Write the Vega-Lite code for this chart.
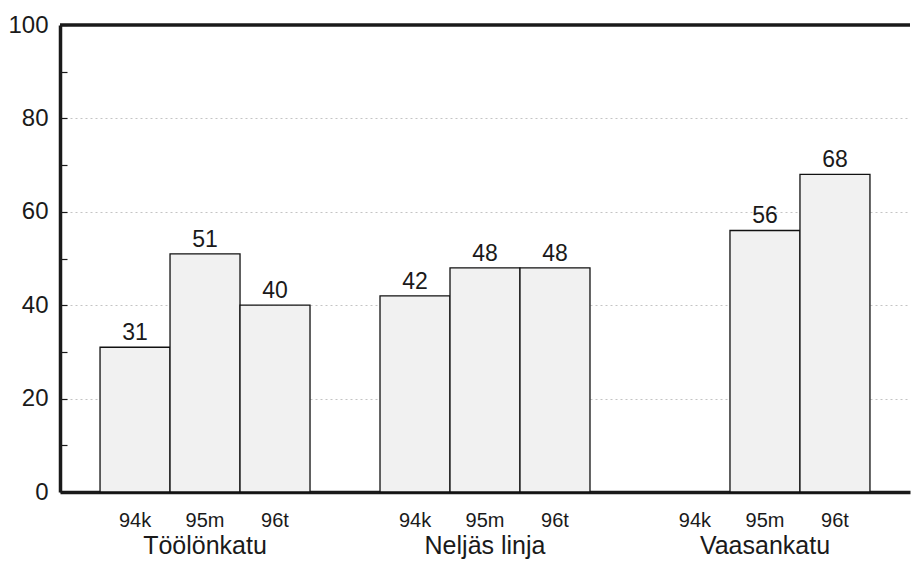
{
  "$schema": "https://vega.github.io/schema/vega-lite/v6.json",
  "width": 850,
  "height": 467,
  "autosize": "none",
  "padding": {"left": 60, "top": 25, "right": 2, "bottom": 73},
  "background": "white",
  "config": {"view": {"stroke": null}, "font": "Liberation Sans", "text": {"font": "Liberation Sans", "color": "#1a1a1a"}},
  "data": {
    "values": [
      {"street": "Töölönkatu", "year": "94k", "value": 31},
      {"street": "Töölönkatu", "year": "95m", "value": 51},
      {"street": "Töölönkatu", "year": "96t", "value": 40},
      {"street": "Neljäs linja", "year": "94k", "value": 42},
      {"street": "Neljäs linja", "year": "95m", "value": 48},
      {"street": "Neljäs linja", "year": "96t", "value": 48},
      {"street": "Vaasankatu", "year": "94k", "value": null},
      {"street": "Vaasankatu", "year": "95m", "value": 56},
      {"street": "Vaasankatu", "year": "96t", "value": 68}
    ]
  },
  "layer": [
    {
      "transform": [{"filter": "datum.value != null"}],
      "mark": {"type": "bar", "fill": "#f1f1f1", "stroke": "#111111", "strokeWidth": 1.3},
      "encoding": {
        "x": {
          "field": "street", "type": "nominal",
          "sort": ["Töölönkatu", "Neljäs linja", "Vaasankatu"],
          "scale": {"domain": ["Töölönkatu", "Neljäs linja", "Vaasankatu"], "paddingInner": 0.25, "paddingOuter": 0.143},
          "axis": {"title": null, "ticks": false, "labelFontSize": 25, "labelPadding": 41, "labelColor": "#1a1a1a", "labelAngle": 0, "domainWidth": 3.5, "domainColor": "#1a1a1a", "labelFont": "Liberation Sans"}
        },
        "xOffset": {
          "field": "year", "type": "nominal",
          "scale": {"domain": ["94k", "95m", "96t"], "paddingInner": 0, "paddingOuter": 0}
        },
        "y": {
          "field": "value", "type": "quantitative",
          "scale": {"domain": [0, 100], "nice": false},
          "axis": {
            "title": null,
            "values": [0, 10, 20, 30, 40, 50, 60, 70, 80, 90, 100],
            "labelExpr": "datum.value % 20 == 0 ? datum.label : ''",
            "labelFontSize": 24, "labelColor": "#1a1a1a", "labelFont": "Liberation Sans",
            "tickSize": -7, "tickColor": "#1a1a1a", "tickWidth": 1.2,
            "labelPadding": 19,
            "domainWidth": 3.5, "domainColor": "#1a1a1a",
            "grid": true,
            "gridColor": "#c4c4c4",
            "gridDash": [2, 3],
            "gridWidth": 1,
            "gridOpacity": {"condition": {"test": "datum.value % 20 == 0 && datum.value > 0 && datum.value < 100", "value": 1}, "value": 0}
          }
        }
      }
    },
    {
      "transform": [{"filter": "datum.value != null"}],
      "mark": {"type": "text", "fontSize": 23, "baseline": "alphabetic", "dy": -7},
      "encoding": {
        "x": {"field": "street", "type": "nominal"},
        "xOffset": {"field": "year", "type": "nominal"},
        "y": {"field": "value", "type": "quantitative"},
        "text": {"field": "value", "type": "quantitative"}
      }
    },
    {
      "mark": {"type": "text", "fontSize": 20, "baseline": "alphabetic"},
      "encoding": {
        "x": {"field": "street", "type": "nominal"},
        "xOffset": {"field": "year", "type": "nominal"},
        "y": {"datum": -7.5},
        "text": {"field": "year", "type": "nominal"}
      }
    },
    {
      "data": {"values": [{"top": 100}]},
      "mark": {"type": "rule", "strokeWidth": 3.5, "color": "#1a1a1a"},
      "encoding": {"y": {"field": "top", "type": "quantitative"}}
    }
  ]
}
